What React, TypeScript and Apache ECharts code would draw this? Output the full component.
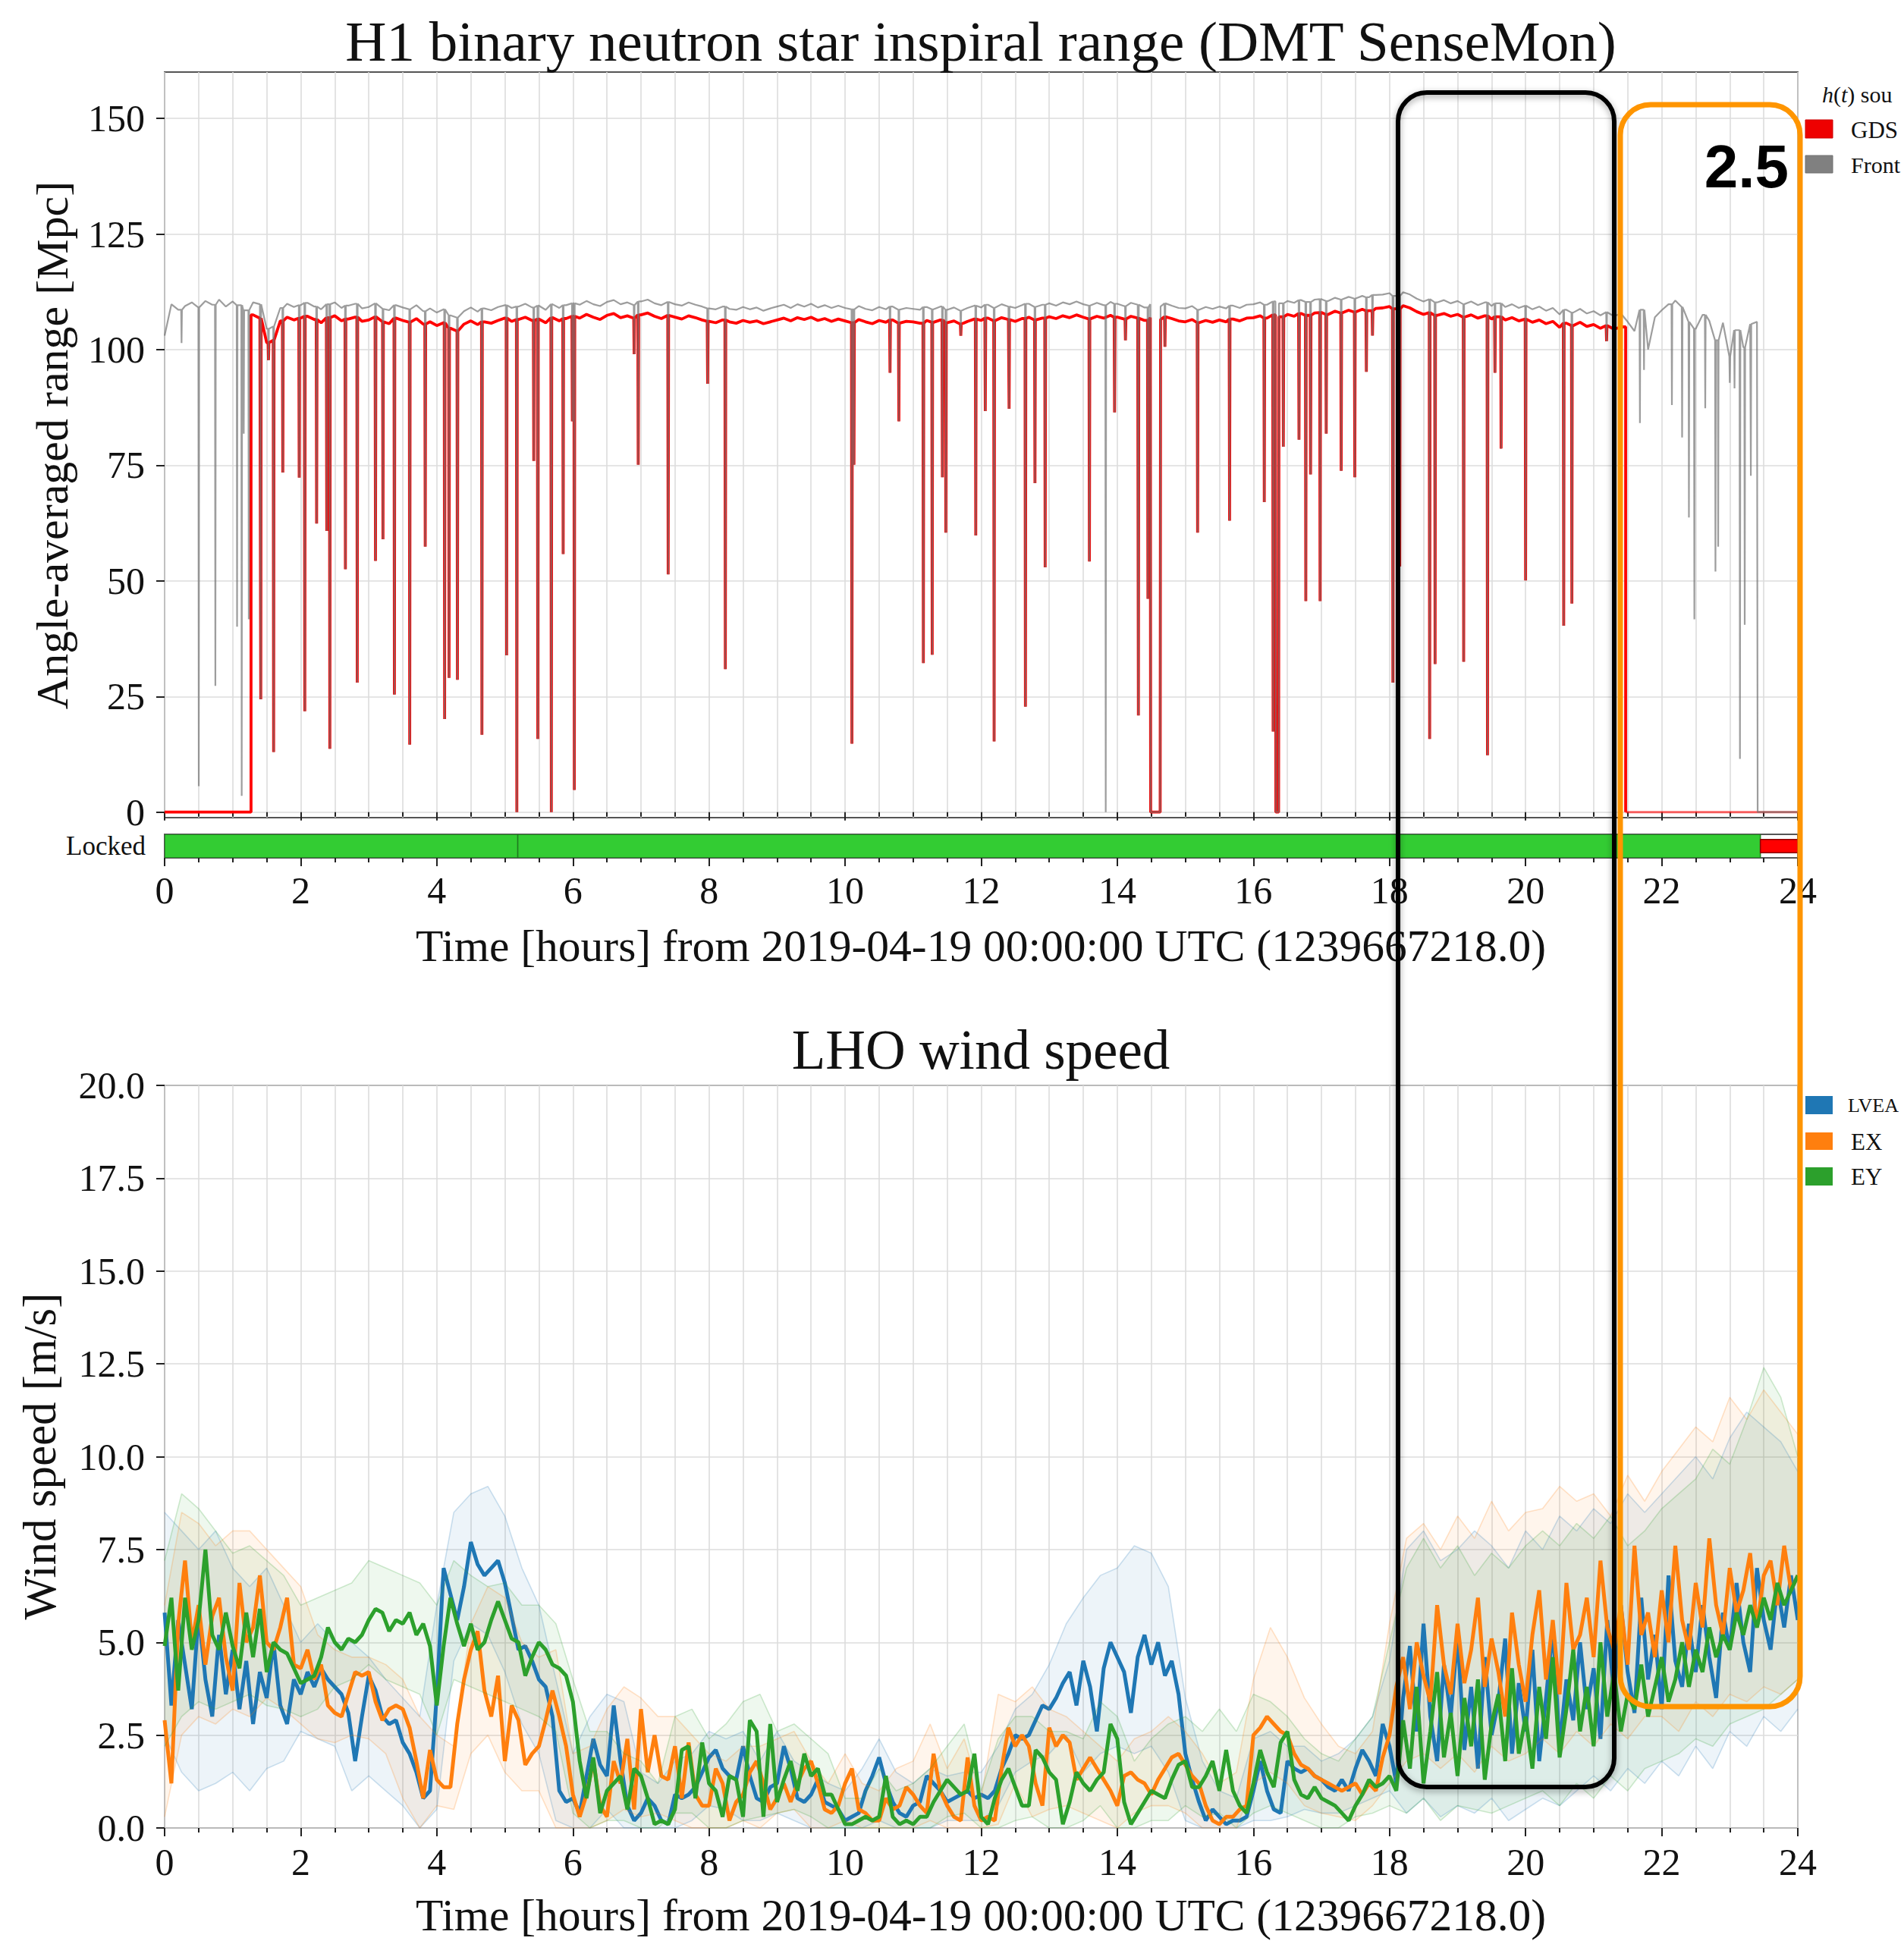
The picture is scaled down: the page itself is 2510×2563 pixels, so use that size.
import React, { useEffect, useRef } from 'react';
import * as echarts from 'echarts';

const W = 2510;
const H = 2563;
const SERIF = 'Liberation Serif';

// ---------------- Top panel: BNS range (Mpc) ----------------
const redOn = [1.27, 21.47];
const redBaseStart = 1.3;
const redBase = [
  107.5, 106.8, 101.5, 102.0, 106.2, 107.0, 106.4,
  106.8, 107.2, 106.5, 105.8, 106.9, 107.3, 106.2, 106.6, 107.0, 106.1,
  106.4, 107.1, 106.0, 105.6, 106.8, 106.3, 105.9, 106.7, 105.5, 106.0,
  105.2, 105.8, 104.6, 104.0, 105.5, 106.2, 105.4, 106.0, 105.7, 106.3,
  106.8, 106.1, 106.5, 107.0, 106.3, 106.6, 105.8, 106.9, 106.2, 106.7,
  107.2, 106.8, 107.6, 107.0, 106.5, 107.4, 107.8, 106.9, 107.3, 106.8,
  107.5, 107.9, 107.2, 106.7, 107.4, 107.0, 106.6, 107.3, 106.9, 106.4,
  106.1, 105.8, 106.4, 106.0, 105.7, 106.3, 105.9, 106.2, 105.6, 106.0,
  106.4, 106.8, 106.2, 106.9, 106.5, 107.0, 106.3, 106.7, 106.1, 106.6,
  106.2, 105.8, 106.5, 106.0, 105.6, 106.3, 105.9, 106.4, 105.7, 106.1,
  106.0, 105.7, 106.3, 105.9, 106.4, 105.8, 106.2, 105.5, 106.1, 106.6,
  106.3, 106.8, 106.2, 106.9, 106.5, 106.1, 106.7, 107.0, 106.4, 106.8,
  107.1, 106.7, 107.3, 106.9, 107.5, 107.0, 106.6, 107.2, 106.8, 107.4,
  107.0, 106.6, 107.2, 106.8, 106.3, 106.9, 106.5, 107.1, 106.7, 106.2,
  106.0, 106.5, 105.8, 106.3, 105.9, 106.4, 106.0, 106.6, 106.2, 106.8,
  106.9, 107.3, 106.8, 107.5, 107.1, 107.6, 107.2, 107.8, 107.4, 107.9,
  108.0, 107.6, 108.3, 107.9, 108.5, 108.1, 108.7, 108.4, 108.9, 109.0,
  109.3, 108.8, 109.5, 109.0, 108.2, 107.6, 108.0, 107.4, 107.8, 107.2,
  107.6, 107.0, 107.5, 106.8, 107.3, 106.6, 107.1, 106.4, 106.9, 106.2,
  106.6, 105.9, 106.4, 105.6, 106.1, 104.8, 105.7, 105.2, 105.9, 105.0,
  105.4, 104.6, 105.2, 104.4, 104.9,
];
const greyBaseStart = 0;
const greyEnd = 23.41;
const greyBase = [
  103.0, 109.8, 108.6, 109.4, 110.2, 109.1, 110.5, 109.7, 110.8, 109.3,
  110.4, 109.6, 108.5, 110.2, 109.8, 104.5, 105.0, 109.0, 109.9, 109.2,
  109.6, 110.1, 109.3, 108.7, 109.8, 110.2, 109.0, 109.5, 109.9, 108.9,
  109.2, 110.0, 108.8, 108.5, 109.6, 109.1, 108.7, 109.6, 108.3, 108.9,
  108.0, 108.7, 107.4, 106.9, 108.3, 109.1, 108.2, 108.9, 108.5, 109.2,
  109.6, 109.0, 109.3, 109.9, 109.1, 109.5, 108.6, 109.8, 109.0, 109.6,
  110.0, 109.7, 110.5, 109.8, 109.4, 110.3, 110.7, 109.8, 110.2, 109.6,
  110.4, 110.8, 110.0, 109.6, 110.3, 109.8, 109.5, 110.2, 109.7, 109.3,
  108.9, 108.7, 109.3, 108.8, 108.6, 109.2, 108.7, 109.1, 108.4, 108.9,
  109.3, 109.7, 109.0, 109.8, 109.3, 109.9, 109.1, 109.6, 109.0, 109.5,
  109.0, 108.7, 109.4, 108.8, 108.5, 109.2, 108.7, 109.3, 108.6, 109.0,
  108.8, 108.6, 109.2, 108.7, 109.3, 108.6, 109.1, 108.4, 109.0, 109.5,
  109.1, 109.7, 109.0, 109.8, 109.3, 109.0, 109.6, 109.9, 109.2, 109.7,
  110.0, 109.5, 110.2, 109.8, 110.4, 109.8, 109.5, 110.1, 109.6, 110.3,
  109.9, 109.4, 110.1, 109.7, 109.1, 109.8, 109.3, 110.0, 109.5, 109.0,
  108.9, 109.4, 108.6, 109.2, 108.8, 109.3, 108.9, 109.5, 109.0, 109.7,
  109.8, 110.2, 109.7, 110.4, 110.0, 110.5, 110.1, 110.7, 110.3, 110.8,
  110.9, 110.5, 111.2, 110.8, 111.4, 111.0, 111.6, 111.3, 111.8, 111.9,
  112.2, 111.6, 112.4, 111.9, 111.0, 110.4, 110.9, 110.2, 110.7, 110.0,
  110.5, 109.8, 110.4, 109.6, 110.2, 109.4, 110.0, 109.2, 109.8, 109.0,
  109.5, 108.7, 109.3, 108.4, 109.0, 107.6, 108.6, 108.0, 108.8, 107.8,
  108.3, 107.4, 108.1, 107.2, 107.8, 106.0, 104.0, 108.6, 100.0, 107.0,
  108.5, 109.8, 110.6, 109.2, 106.0, 104.5, 107.5, 106.2, 102.0, 105.8,
  98.5, 104.2, 100.5, 105.5, 106.0,
];
// glitches seen by both h(t) sources: [hour, Mpc at bottom of dip]
const sharedDips = [
  [1.413, 24.4], [1.527, 97.7], [1.602, 13.0], [1.737, 73.4], [1.978, 72.3], [2.06, 21.8],
  [2.234, 62.4], [2.383, 60.8], [2.428, 13.7], [2.657, 52.5], [2.831, 28.0], [3.099, 54.3],
  [3.209, 59.0], [3.377, 25.4], [3.602, 14.6], [3.83, 57.4], [4.115, 20.1], [4.18, 29.0],
  [4.303, 28.6], [4.663, 16.7], [5.026, 33.9], [5.176, 0], [5.425, 75.9], [5.484, 15.8],
  [5.683, 0], [5.857, 55.8], [5.992, 84.5], [6.021, 4.8], [6.9, 99.0], [6.96, 75.1],
  [7.4, 51.4], [7.98, 92.6], [8.24, 30.9], [10.1, 14.8], [10.13, 75.1], [10.66, 95.0],
  [10.79, 84.5], [11.15, 32.2], [11.28, 34.0], [11.43, 72.4], [11.48, 60.4], [11.7, 103.0],
  [11.92, 59.8], [12.06, 86.7], [12.19, 15.3], [12.41, 87.2], [12.65, 22.8], [12.79, 71.1],
  [12.94, 52.9], [13.59, 54.2], [13.96, 86.4], [14.12, 102.0], [14.31, 20.9], [14.45, 46.1],
  [14.7, 100.6], [15.18, 60.4], [15.65, 63.0], [16.16, 67.0], [16.29, 17.4], [16.44, 79.0],
  [16.67, 80.5], [16.77, 45.6], [16.84, 73.0], [16.98, 45.6], [17.07, 81.8], [17.29, 73.8],
  [17.49, 72.4], [17.66, 95.2], [17.75, 103.0], [18.05, 28.0], [18.15, 53.1], [18.59, 15.8],
  [18.67, 32.0], [19.09, 32.5], [19.44, 12.3], [19.55, 95.0], [19.64, 78.6], [20.0, 50.1],
  [20.56, 40.3], [20.68, 45.1], [21.19, 101.8],
];
const greyOnlyDips = [
  [0.249, 101.4], [0.502, 5.6], [0.746, 27.3], [1.065, 40.1], [1.133, 3.5], [1.163, 81.8],
  [1.237, 41.7], [13.83, 0], [21.68, 84.1], [21.74, 95.6], [22.15, 88.0], [22.3, 81.0],
  [22.4, 63.7], [22.48, 41.7], [22.64, 87.3], [22.79, 52.0], [22.83, 57.4], [23.0, 92.8],
  [23.07, 91.6], [23.15, 11.5], [23.22, 40.5], [23.31, 72.7],
];
const zeroWindows = [[14.49, 14.63], [16.33, 16.37]];

// lock state segments: [start h, end h, 0 = locked, 1 = known but not locked]
const lockSegments = [[0, 5.19, 0], [5.19, 23.45, 0], [23.45, 24, 1]];

// ---------------- Bottom panel: wind speed (m/s) ----------------
const meanStep = 0.1;
const lveaMean = [
  5.8, 3.3, 5.6, 4.4, 3.2, 5.8, 4.0, 3.0, 5.2, 3.6,
  4.8, 3.2, 4.5, 2.8, 4.2, 3.5, 5.0, 3.3, 2.8, 4.0,
  3.6, 4.2, 3.8, 4.3, 4.0, 3.8, 3.6, 3.1, 1.8, 3.0,
  4.1, 3.7, 3.0, 2.8, 2.9, 2.3, 2.0, 1.5, 0.8, 1.0,
  3.6, 7.0, 6.3, 5.6, 6.5, 7.7, 7.1, 6.8, 7.0, 7.2,
  6.6, 5.7, 4.8, 4.9, 4.5, 4.0, 3.8, 3.0, 1.0, 0.7,
  0.8, 0.4, 1.4, 2.4, 1.7, 1.4, 3.3, 1.8, 0.6, 0.2,
  0.4, 0.8, 0.6, 0.2, 0.1, 0.9, 0.8, 0.9, 1.1, 1.5,
  1.9, 2.1, 1.6, 1.4, 1.3, 2.2, 1.4, 0.8, 0.7, 1.1,
  1.2, 2.2, 1.6, 0.8, 0.7, 0.9, 1.3, 0.7, 0.6, 0.5,
  0.2, 0.3, 0.4, 1.0, 1.4, 1.9, 1.2, 0.7, 0.4, 0.3,
  0.6, 0.7, 1.4, 1.2, 1.0, 0.7, 0.8, 0.9, 1.0, 0.8,
  0.9, 0.8, 1.0, 1.6, 2.0, 2.5, 2.4, 2.5, 2.9, 3.3,
  3.2, 3.5, 3.9, 4.2, 3.3, 4.5, 3.8, 2.6, 4.3, 5.0,
  4.6, 4.2, 3.1, 4.6, 5.2, 4.4, 5.0, 4.1, 4.5, 3.6,
  2.0, 1.3, 0.7, 0.2, 0.5, 0.3, 0.1, 0.2, 0.2, 0.3,
  1.0, 1.8, 1.0, 0.5, 0.4, 1.8, 1.6, 1.5, 1.6, 1.4,
  1.3, 1.1, 1.0, 1.3, 1.0, 1.6, 2.1, 1.8, 1.4, 2.8,
  2.2, 1.2, 3.5, 4.9, 2.6, 5.5, 3.0, 1.8, 4.4, 3.0,
  5.2, 2.1, 3.8, 1.6, 4.6, 2.5, 3.4, 5.1, 2.0, 3.9,
  2.6, 4.8, 1.8, 3.5, 5.4, 2.2, 4.0, 2.9, 5.0, 3.2,
  4.3, 2.4, 5.6, 3.6, 6.0, 4.2, 3.1, 6.2, 4.0, 5.2,
  3.2, 6.8, 4.5, 3.8, 5.5, 4.2, 6.0, 4.6, 3.5, 5.8,
  4.8, 6.6, 5.0, 4.2, 7.0, 5.6, 4.8, 6.5, 5.4, 6.8,
  5.6,
];
const exMean = [
  2.9, 1.2, 5.5, 7.2, 5.0, 6.0, 4.4, 5.7, 6.2, 4.6,
  3.7, 6.6, 5.0, 5.4, 6.8, 5.0, 4.8, 5.4, 6.2, 4.4,
  4.3, 4.8, 4.0, 4.4, 3.3, 3.1, 3.0, 3.6, 4.2, 4.1,
  4.2, 3.4, 2.9, 3.2, 3.3, 3.2, 2.7, 1.8, 0.8, 2.1,
  1.3, 1.1, 1.1, 2.8, 4.0, 4.8, 5.3, 3.7, 3.0, 4.1,
  1.8, 3.3, 2.9, 1.7, 2.0, 2.2, 2.9, 3.7, 3.0, 2.2,
  0.9, 0.3, 0.9, 1.8, 0.6, 0.3, 1.8, 1.2, 2.4, 0.5,
  3.2, 1.5, 2.5, 1.4, 1.3, 2.2, 0.8, 2.3, 0.9, 0.6,
  0.6, 1.6, 1.2, 0.2, 0.7, 0.9, 1.5, 1.8, 1.2, 0.5,
  0.8, 1.2, 0.7, 1.2, 1.6, 1.8, 1.2, 0.5, 0.4, 0.6,
  1.2, 1.6, 0.5, 0.4, 0.2, 0.2, 0.8, 0.5, 0.6, 1.1,
  0.9, 0.6, 0.4, 2.0, 1.0, 0.6, 0.3, 0.2, 1.9, 0.6,
  0.2, 0.3, 0.2, 1.6, 2.7, 2.2, 2.5, 2.2, 1.2, 0.6,
  2.7, 2.2, 2.5, 2.3, 1.3, 1.6, 1.9, 1.6, 1.3, 1.0,
  0.6, 1.4, 1.5, 1.3, 1.2, 0.9, 1.3, 1.6, 1.9, 2.0,
  1.7, 1.4, 1.2, 0.6, 0.2, 0.1, 0.3, 0.3, 0.5, 0.6,
  2.5, 2.7, 3.0, 2.8, 2.6, 2.5, 2.0, 1.7, 1.6, 1.4,
  1.3, 1.2, 1.1, 1.0, 1.1, 1.2, 0.9, 1.2, 1.0, 1.9,
  2.5, 3.8, 4.6, 3.2, 5.0, 4.1, 3.4, 6.0, 4.4, 3.6,
  5.5, 3.9, 4.8, 6.2, 3.8, 5.1, 4.2, 3.0, 5.8, 4.4,
  3.4, 5.2, 6.4, 4.0, 5.6, 3.6, 6.6, 4.8, 5.2, 6.2,
  4.6, 7.2, 5.4, 4.8, 6.0, 4.4, 7.6, 5.2, 5.8, 4.6,
  6.4, 5.0, 7.6, 5.6, 4.8, 6.6, 5.4, 7.8, 6.0, 5.2,
  7.0, 5.8, 6.4, 7.4, 5.4, 6.8, 7.2, 6.0, 7.6, 6.4,
  6.8,
];
const eyMean = [
  4.9, 6.2, 3.7, 6.2, 4.8, 5.6, 7.5, 5.2, 4.8, 5.8,
  4.9, 4.3, 5.8, 4.6, 5.9, 4.2, 5.0, 4.8, 4.7, 4.3,
  3.9, 4.0, 4.1, 4.6, 5.4, 5.0, 4.8, 5.1, 5.0, 5.2,
  5.6, 5.9, 5.8, 5.3, 5.6, 5.5, 5.8, 5.2, 5.5, 4.9,
  3.3, 4.9, 6.2, 5.5, 4.9, 5.5, 4.8, 5.0, 5.6, 6.1,
  5.6, 5.1, 5.0, 4.1, 4.6, 5.0, 4.8, 4.4, 4.3, 4.1,
  3.4, 1.8, 0.8, 1.9, 0.4, 1.0, 1.2, 1.4, 0.5, 1.6,
  1.4, 0.8, 0.1, 0.2, 0.1, 0.5, 2.1, 2.2, 0.8, 2.3,
  1.2, 1.0, 0.3, 1.4, 1.3, 0.3, 2.9, 2.6, 0.3, 2.8,
  0.7, 1.3, 1.8, 1.0, 2.0, 1.4, 1.6, 0.9, 0.9, 0.5,
  0.1, 0.1, 0.2, 0.3, 0.2, 0.3, 1.4, 0.3, 0.1, 0.2,
  0.1, 0.3, 0.3, 0.7, 1.0, 1.3, 1.1, 0.9, 1.0, 2.0,
  0.3, 0.1, 0.8, 1.3, 1.6, 1.1, 0.6, 0.6, 2.1, 1.9,
  1.5, 1.3, 0.1, 0.7, 1.5, 1.2, 1.0, 1.3, 1.5, 2.8,
  2.4, 0.7, 0.1, 0.4, 0.7, 1.0, 0.9, 0.8, 1.3, 1.7,
  1.8, 1.1, 1.1, 1.4, 1.8, 1.0, 2.1, 1.0, 0.6, 0.4,
  1.2, 2.1, 1.5, 1.1, 2.3, 2.6, 1.3, 0.9, 0.8, 1.1,
  0.8, 0.7, 0.6, 0.4, 0.2, 0.6, 0.9, 1.3, 1.1, 1.2,
  1.4, 1.0, 2.9, 1.6, 3.8, 1.2, 2.6, 4.2, 1.9, 3.1,
  1.4, 3.5, 2.2, 4.0, 1.3, 2.8, 3.6, 1.8, 4.3, 2.0,
  3.0, 1.6, 3.8, 2.4, 4.6, 1.9, 3.2, 4.8, 2.6, 3.8,
  2.2, 5.0, 3.0, 4.2, 2.6, 3.6, 3.2, 4.4, 3.0, 3.8,
  4.6, 3.4, 4.0, 5.0, 3.8, 4.8, 4.2, 5.4, 4.6, 5.2,
  4.8, 5.8, 5.2, 6.0, 5.4, 6.2, 5.6, 6.6, 6.0, 6.4,
  6.8,
];
// min/max envelopes, every 0.25 h
const bandStep = 0.25;
const lveaUpper = [
  8.5, 8.0, 7.5, 8.0, 7.0, 6.5, 7.0, 6.0,
  5.0, 5.5, 5.0, 5.0, 4.6, 4.0, 3.5, 3.0,
  6.0, 8.5, 9.0, 9.2, 8.4, 7.0, 6.0, 4.0,
  2.0, 3.0, 3.6, 3.4, 1.5, 1.2, 1.8, 2.0,
  2.6, 2.4, 2.6, 1.8, 2.6, 1.8, 1.5, 1.2,
  1.0, 1.6, 2.4, 1.5, 1.2, 1.6, 1.4, 1.5,
  1.5, 2.2, 3.2, 3.6, 4.4, 5.5, 6.2, 6.8,
  7.0, 7.6, 7.4, 6.5, 3.5, 1.8, 1.0, 0.8,
  2.4, 2.6, 2.2, 2.2, 1.8, 2.0, 2.4, 3.0,
  4.5, 7.5, 8.0, 7.2, 7.5, 8.0, 7.6, 7.0,
  8.0, 7.5, 8.4, 8.0, 8.6, 8.2, 9.0, 8.5,
  9.0, 9.5, 10.0, 9.4, 10.5, 11.2, 10.8, 10.4, 9.6,
];
const lveaLower = [
  2.5, 1.5, 1.0, 1.2, 1.5, 1.0, 1.6, 1.8,
  2.6, 2.4, 2.2, 1.0, 1.4, 1.0, 0.6, 0.0,
  0.5, 4.5, 5.5, 5.2, 4.2, 2.8, 2.0, 0.2,
  0.0, 0.0, 0.5, 0.0, 0.0, 0.0, 0.0, 0.2,
  0.6, 0.5, 0.2, 0.2, 0.4, 0.2, 0.0, 0.0,
  0.0, 0.0, 0.2, 0.0, 0.0, 0.0, 0.2, 0.2,
  0.2, 0.6, 1.5, 1.8, 2.0, 2.5, 1.5, 2.0,
  2.2, 2.0, 2.2, 1.5, 0.2, 0.0, 0.0, 0.0,
  0.2, 0.2, 0.3, 0.5, 0.4, 0.4, 0.6, 0.8,
  1.0, 0.4, 0.8, 0.3, 0.6, 0.4, 0.8, 0.2,
  0.5, 0.8, 0.6, 1.0, 1.4, 1.0, 1.6, 1.2,
  1.8, 1.4, 2.2, 1.6, 2.6, 2.2, 3.0, 2.6, 3.2,
];
const exUpper = [
  6.0, 8.5, 8.2, 7.6, 8.0, 8.0, 7.5, 7.0,
  6.5, 5.2, 4.8, 4.6, 4.6, 4.4, 4.0, 3.0,
  2.5, 2.2, 5.5, 6.5, 6.2, 5.0, 4.6, 4.8,
  2.0, 2.2, 3.2, 3.8, 3.5, 3.0, 3.0, 2.5,
  2.0, 1.8, 2.2, 2.2, 2.4, 2.6, 1.8, 1.2,
  2.0, 1.2, 1.0, 1.6, 1.8, 2.8, 1.6, 2.4,
  0.8, 3.6, 3.4, 3.8, 3.2, 3.0, 2.6, 2.2,
  1.8, 2.4, 2.6, 3.0, 2.6, 2.0, 1.2, 1.5,
  4.0, 5.4, 4.6, 3.5, 2.8, 2.2, 2.0, 2.6,
  5.5, 7.8, 8.2, 7.5, 8.4, 7.8, 8.8, 8.0,
  8.5, 8.6, 9.2, 8.8, 9.0, 8.4, 9.5, 8.8,
  9.6, 10.2, 10.8, 10.4, 11.6, 11.0, 11.8, 11.2, 10.6,
];
const exLower = [
  0.3, 2.5, 3.0, 2.8, 3.2, 3.0, 3.5, 3.2,
  2.8, 2.4, 2.3, 2.5, 2.4, 2.0, 0.8, 0.0,
  0.6, 0.5, 2.0, 2.5, 1.5, 1.0, 1.0, 0.0,
  0.0, 0.0, 0.2, 0.5, 0.3, 0.4, 0.2, 0.0,
  0.0, 0.0, 0.2, 0.0, 0.4, 0.5, 0.0, 0.0,
  0.2, 0.0, 0.0, 0.0, 0.0, 0.2, 0.0, 0.0,
  0.0, 0.1, 1.2, 0.3, 0.5, 0.6, 0.4, 0.2,
  0.0, 0.4, 0.6, 0.6, 0.4, 0.0, 0.0, 0.0,
  1.2, 1.5, 1.2, 0.6, 0.4, 0.3, 0.2, 0.6,
  1.2, 1.8, 2.0, 1.6, 2.0, 1.5, 2.2, 1.8,
  2.0, 2.4, 2.0, 2.6, 2.2, 2.8, 2.4, 3.0,
  3.0, 2.6, 3.4, 3.0, 3.6, 3.4, 3.8, 3.6, 4.0,
];
const eyUpper = [
  7.2, 9.0, 8.6, 8.0, 7.4, 7.6, 7.2, 6.8,
  6.0, 6.2, 6.4, 6.6, 7.2, 7.0, 6.8, 6.6,
  6.0, 7.2, 6.8, 6.5, 6.6, 6.0, 6.0, 5.5,
  4.0, 2.6, 2.6, 2.0, 1.8, 1.2, 3.0, 3.2,
  2.4, 2.8, 3.4, 3.6, 2.6, 2.8, 2.4, 2.0,
  0.8, 0.8, 1.6, 1.0, 1.2, 1.6, 2.2, 2.8,
  1.0, 2.4, 3.0, 3.0, 2.6, 2.6, 2.4, 3.4,
  3.0, 1.8, 2.4, 2.8, 3.0, 2.6, 3.2, 2.6,
  3.6, 3.4, 3.0, 2.4, 2.0, 1.8, 2.4, 3.0,
  5.0, 7.0, 7.8, 7.0, 7.6, 6.8, 7.4, 7.0,
  7.6, 8.0, 7.6, 8.2, 7.8, 8.4, 7.6, 8.0,
  8.6, 9.0, 9.4, 10.2, 9.8, 11.0, 12.4, 11.6, 10.0,
];
const eyLower = [
  2.2, 3.0, 3.4, 3.2, 3.4, 3.6, 3.3, 3.2,
  3.0, 3.2, 3.8, 4.0, 4.4, 4.0, 3.8, 3.6,
  2.5, 4.0, 3.8, 3.6, 3.4, 3.2, 3.0, 2.6,
  0.4, 0.0, 0.2, 0.2, 0.0, 0.0, 0.4, 0.4,
  0.0, 0.0, 0.2, 0.3, 0.4, 0.5, 0.3, 0.0,
  0.0, 0.0, 0.0, 0.0, 0.0, 0.0, 0.3, 0.4,
  0.0, 0.0, 0.2, 0.3, 0.0, 0.0, 0.2, 0.6,
  0.0, 0.0, 0.2, 0.2, 0.6, 0.3, 0.4, 0.0,
  0.4, 0.6, 0.4, 0.2, 0.0, 0.0, 0.3, 0.4,
  0.6, 0.4, 0.8, 0.2, 0.6, 0.5, 0.4, 0.6,
  0.8, 1.0, 0.6, 1.2, 0.8, 1.4, 1.0, 1.6,
  1.8, 2.0, 2.4, 2.2, 2.8, 3.0, 3.2, 3.6, 4.0,
];

const hourTicks = 2;
const rangeTicks = 25;
const windTicks = 2.5;

// ---------------- helpers ----------------
const rt = (t: number) => Math.round(t * 1000) / 1000;

function buildTrace(start: number, step: number, base: number[], dips: number[][], zeros: number[][]) {
  const w = 0.006;
  const end = start + (base.length - 1) * step;
  const near = (t: number) => base[Math.max(0, Math.min(base.length - 1, Math.round((t - start) / step)))];
  const inRange = (t: number) => t > start && t < end;
  const usedDips = dips.filter(([d]) => inRange(d));
  const usedZeros = zeros.filter(([a, b]) => inRange(a) && inRange(b));
  const excluded = (t: number) =>
    usedDips.some(([d]) => Math.abs(t - d) < w + 0.003) ||
    usedZeros.some(([a, b]) => t > a - w - 0.003 && t < b + w + 0.003);
  const pts: number[][] = [];
  base.forEach((v, i) => {
    const t = rt(start + i * step);
    if (!excluded(t)) pts.push([t, v]);
  });
  usedDips.forEach(([d, v]) => {
    const vb = near(d);
    pts.push([rt(d - w), vb], [d, v], [rt(d + w), vb]);
  });
  usedZeros.forEach(([a, b]) => {
    pts.push([rt(a - w), near(a)], [a, 0], [b, 0], [rt(b + w), near(b)]);
  });
  pts.sort((p, q) => p[0] - q[0]);
  return pts;
}

const redTrace = buildTrace(redBaseStart, 0.1, redBase, sharedDips, zeroWindows);
const redData = [
  [0, 0], [redOn[0], 0], [redOn[0], redBase[0]],
  ...redTrace,
  [redOn[1], redBase[redBase.length - 1]], [redOn[1], 0],
];
const redTail = [[redOn[1], 0], [24, 0]];
const greyTrace = buildTrace(greyBaseStart, 0.1, greyBase, [...greyOnlyDips, ...sharedDips], zeroWindows);
const greyData = [...greyTrace, [greyEnd, 0], [24, 0]];

const series1 = (arr: number[], step: number) => arr.map((v, i) => [rt(i * step), v]);

const tickStyle = { color: '#222', width: 2 };
const gridLine = { color: '#dcdcdc', width: 1.6 };
const labelStyle = { fontFamily: SERIF, fontSize: 50, color: '#111' };

function bandSeries(color: string, lower: number[], upper: number[]) {
  return {
    type: 'custom',
    xAxisIndex: 3,
    yAxisIndex: 3,
    silent: true,
    clip: true,
    data: [[0, 0]],
    renderItem: (params: any, api: any) => {
      const pts: number[][] = [];
      for (let i = 0; i < upper.length; i++) pts.push(api.coord([i * bandStep, upper[i]]));
      for (let i = lower.length - 1; i >= 0; i--) pts.push(api.coord([i * bandStep, lower[i]]));
      return { type: 'polygon', shape: { points: pts }, style: { fill: color, opacity: 0.08 } };
    },
  };
}
function edgeSeries(color: string, arr: number[]) {
  return {
    type: 'line', xAxisIndex: 3, yAxisIndex: 3, silent: true, symbol: 'none',
    data: series1(arr, bandStep),
    lineStyle: { color, width: 1.6, opacity: 0.22 },
  };
}
function meanSeries(color: string, arr: number[]) {
  return {
    type: 'line', xAxisIndex: 3, yAxisIndex: 3, silent: true, symbol: 'none',
    data: series1(arr, meanStep),
    lineStyle: { color, width: 5 },
  };
}

const PL = 217, PW = 2153;

function hourAxis(gridIndex: number, labels: boolean, split: boolean, margin = 18) {
  return {
    type: 'value', gridIndex, min: 0, max: 24, interval: hourTicks,
    axisLine: { show: false },
    axisLabel: labels ? { ...labelStyle, margin } : { show: false },
    axisTick: { show: true, length: 11, lineStyle: tickStyle },
    minorTick: { show: true, splitNumber: 4, length: 6, lineStyle: tickStyle },
    splitLine: { show: split, lineStyle: gridLine },
    minorSplitLine: { show: split, lineStyle: gridLine },
  };
}

const txt = (x: number, y: number, text: string, size: number, extra: any = {}) => ({
  type: 'text', x, y, z: 50,
  style: {
    text, fill: '#111', fontFamily: SERIF, fontSize: size,
    align: 'center', verticalAlign: 'middle', ...extra,
  },
});

const option: any = {
  animation: false,
  backgroundColor: '#ffffff',
  grid: [
    { left: PL, top: 95, width: PW, height: 983, show: true, borderColor: '#555', borderWidth: 2, backgroundColor: 'transparent' },
    { left: PL, top: 156.2, width: PW, height: 914.5 },
    { left: PL, top: 1100, width: PW, height: 31, show: true, borderColor: '#555', borderWidth: 2, backgroundColor: 'transparent' },
    { left: PL, top: 1431, width: PW, height: 979, show: true, borderColor: '#555', borderWidth: 2, backgroundColor: 'transparent' },
  ],
  xAxis: [
    hourAxis(0, false, true),
    { type: 'value', gridIndex: 1, min: 0, max: 24, show: false },
    hourAxis(2, true, false, 18),
    hourAxis(3, true, true, 20),
  ],
  yAxis: [
    { type: 'value', gridIndex: 0, min: -1.2, max: 160, show: false },
    {
      type: 'value', gridIndex: 1, min: 0, max: 150, interval: rangeTicks,
      axisLine: { show: false },
      axisTick: { show: true, length: 11, lineStyle: tickStyle },
      axisLabel: { ...labelStyle, margin: 26 },
      splitLine: { show: true, lineStyle: gridLine },
    },
    { type: 'value', gridIndex: 2, min: 0, max: 1, show: false },
    {
      type: 'value', gridIndex: 3, min: 0, max: 20, interval: windTicks,
      axisLine: { show: false },
      axisTick: { show: true, length: 11, lineStyle: tickStyle },
      axisLabel: { ...labelStyle, margin: 26, formatter: (v: number) => v.toFixed(1) },
      splitLine: { show: true, lineStyle: gridLine },
    },
  ],
  series: [
    {
      type: 'line', xAxisIndex: 0, yAxisIndex: 0, data: redData, symbol: 'none', silent: true,
      lineStyle: { color: '#ff0000', width: 3.8 },
    },
    {
      type: 'line', xAxisIndex: 0, yAxisIndex: 0, data: redTail, symbol: 'none', silent: true,
      lineStyle: { color: '#ff0000', width: 3, opacity: 0.6 },
    },
    {
      type: 'line', xAxisIndex: 0, yAxisIndex: 0, data: greyData, symbol: 'none', silent: true,
      lineStyle: { color: '#737373', width: 2.2, opacity: 0.7 },
    },
    {
      type: 'custom', xAxisIndex: 2, yAxisIndex: 2, silent: true, clip: true,
      data: lockSegments,
      renderItem: (params: any, api: any) => {
        const known = api.value(2) === 1;
        const p0 = api.coord([api.value(0), known ? 0.78 : 1]);
        const p1 = api.coord([api.value(1), known ? 0.22 : 0]);
        return {
          type: 'rect',
          shape: { x: p0[0], y: p0[1], width: p1[0] - p0[0], height: p1[1] - p0[1] },
          style: {
            fill: known ? '#ff0000' : '#33cc33',
            stroke: known ? '#8a0000' : '#1f7a1f',
            lineWidth: 1.5,
          },
        };
      },
    },
    bandSeries('#1f77b4', lveaLower, lveaUpper),
    edgeSeries('#1f77b4', lveaUpper),
    edgeSeries('#1f77b4', lveaLower),
    meanSeries('#1f77b4', lveaMean),
    bandSeries('#ff7f0e', exLower, exUpper),
    edgeSeries('#ff7f0e', exUpper),
    edgeSeries('#ff7f0e', exLower),
    meanSeries('#ff7f0e', exMean),
    bandSeries('#2ca02c', eyLower, eyUpper),
    edgeSeries('#2ca02c', eyUpper),
    edgeSeries('#2ca02c', eyLower),
    meanSeries('#2ca02c', eyMean),
  ],
  graphic: [
    txt(1293, 54, 'H1 binary neutron star inspiral range (DMT SenseMon)', 75),
    txt(1293, 1247, 'Time [hours] from 2019-04-19 00:00:00 UTC (1239667218.0)', 59.5),
    txt(1293, 1384, 'LHO wind speed', 73),
    txt(1293, 2525, 'Time [hours] from 2019-04-19 00:00:00 UTC (1239667218.0)', 59.5),
    { ...txt(69, 587, 'Angle-averaged range [Mpc]', 60), rotation: Math.PI / 2 },
    { ...txt(52, 1920, 'Wind speed [m/s]', 61), rotation: Math.PI / 2 },
    txt(192, 1115, 'Locked', 35, { align: 'right' }),
    // legends
    {
      type: 'text', x: 2402, y: 124, z: 50,
      style: {
        text: '{i|h}({i|t}) sou', fill: '#111', fontFamily: SERIF, fontSize: 30,
        align: 'left', verticalAlign: 'middle',
        rich: { i: { fontStyle: 'italic', fontFamily: SERIF, fontSize: 30, fill: '#111' } },
      },
    },
    { type: 'rect', z: 50, shape: { x: 2380, y: 158, width: 36, height: 24 }, style: { fill: '#ee0000', stroke: '#cc0000', lineWidth: 1 } },
    txt(2440, 171, 'GDS', 31, { align: 'left' }),
    { type: 'rect', z: 50, shape: { x: 2380, y: 205, width: 36, height: 23 }, style: { fill: '#808080', stroke: '#707070', lineWidth: 1 } },
    txt(2440, 217, 'Front', 30, { align: 'left' }),
    { type: 'rect', z: 50, shape: { x: 2380, y: 1445, width: 36, height: 24 }, style: { fill: '#1f77b4' } },
    txt(2436, 1457, 'LVEA', 26, { align: 'left' }),
    { type: 'rect', z: 50, shape: { x: 2380, y: 1493, width: 36, height: 23 }, style: { fill: '#ff7f0e' } },
    txt(2440, 1505, 'EX', 31, { align: 'left' }),
    { type: 'rect', z: 50, shape: { x: 2380, y: 1539, width: 36, height: 24 }, style: { fill: '#2ca02c' } },
    txt(2440, 1551, 'EY', 31, { align: 'left' }),
    // annotation boxes
    {
      type: 'rect', z: 100,
      shape: { x: 1843, y: 122, width: 285, height: 2234, r: 38 },
      style: { fill: 'none', stroke: '#000000', lineWidth: 6, shadowBlur: 8, shadowColor: 'rgba(0,0,0,0.35)', shadowOffsetY: 3 },
    },
    {
      type: 'rect', z: 101,
      shape: { x: 2136, y: 138, width: 237, height: 2112, r: 40 },
      style: { fill: 'none', stroke: '#ff9500', lineWidth: 7 },
    },
    {
      type: 'text', x: 2358, y: 219, z: 102,
      style: {
        text: '2.5', fill: '#000', fontFamily: 'Liberation Sans', fontWeight: 'bold', fontSize: 80,
        align: 'right', verticalAlign: 'middle',
      },
    },
  ],
};

export default function App() {
  const ref = useRef<HTMLDivElement>(null);
  useEffect(() => {
    document.body.style.margin = '0';
    const chart = echarts.init(ref.current as HTMLDivElement, null, { renderer: 'svg', width: W, height: H });
    chart.setOption(option);
    return () => chart.dispose();
  }, []);
  return <div ref={ref} style={{ width: W, height: H }} />;
}
